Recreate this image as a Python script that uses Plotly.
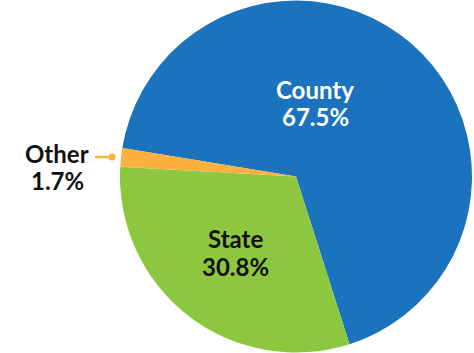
import plotly.graph_objects as go

labels = ["County", "State", "Other"]
values = [67.5, 30.8, 1.7]
colors = ["#1a73bc", "#8dc63f", "#fbb040"]
text_colors = ["#ffffff", "#111111", "#111111"]

W, H = 474, 353
FONT = "Lato"

fig = go.Figure(go.Pie(
    labels=labels, values=values, sort=False, direction="clockwise",
    rotation=279.3, marker=dict(colors=colors, line=dict(width=0)),
    textinfo="none", hoverinfo="label+percent", showlegend=False,
    domain=dict(x=[120 / W, 472 / W], y=[0, 1]),
))

# label anchor positions (pixels, center of text block)
label_pos = {"County": (315, 103), "State": (235, 252), "Other": (57, 167)}

anns = []
for lab, val, tc in zip(labels, values, text_colors):
    cx, cy = label_pos[lab]
    for i, t in enumerate([lab, f"{val}%"]):
        y = cy - 14 + i * 28
        anns.append(dict(text=f"<b>{t}</b>", x=cx / W, y=1 - y / H, xref="paper", yref="paper",
                         showarrow=False, xanchor="center", yanchor="middle",
                         font=dict(family=FONT, size=24, color=tc)))

shapes = [
    dict(type="line", xref="paper", yref="paper", x0=95 / W, x1=112 / W,
         y0=1 - 157 / H, y1=1 - 157 / H, line=dict(color="#fbb040", width=2.5)),
    dict(type="circle", xref="paper", yref="paper", x0=108.5 / W, x1=115.5 / W,
         y0=1 - 160.5 / H, y1=1 - 153.5 / H, fillcolor="#fbb040", line=dict(width=0)),
]

fig.update_layout(width=W, height=H, margin=dict(l=0, r=0, t=0, b=0),
                  paper_bgcolor="white", plot_bgcolor="white",
                  annotations=anns, shapes=shapes)
fig.write_html("out.html")
